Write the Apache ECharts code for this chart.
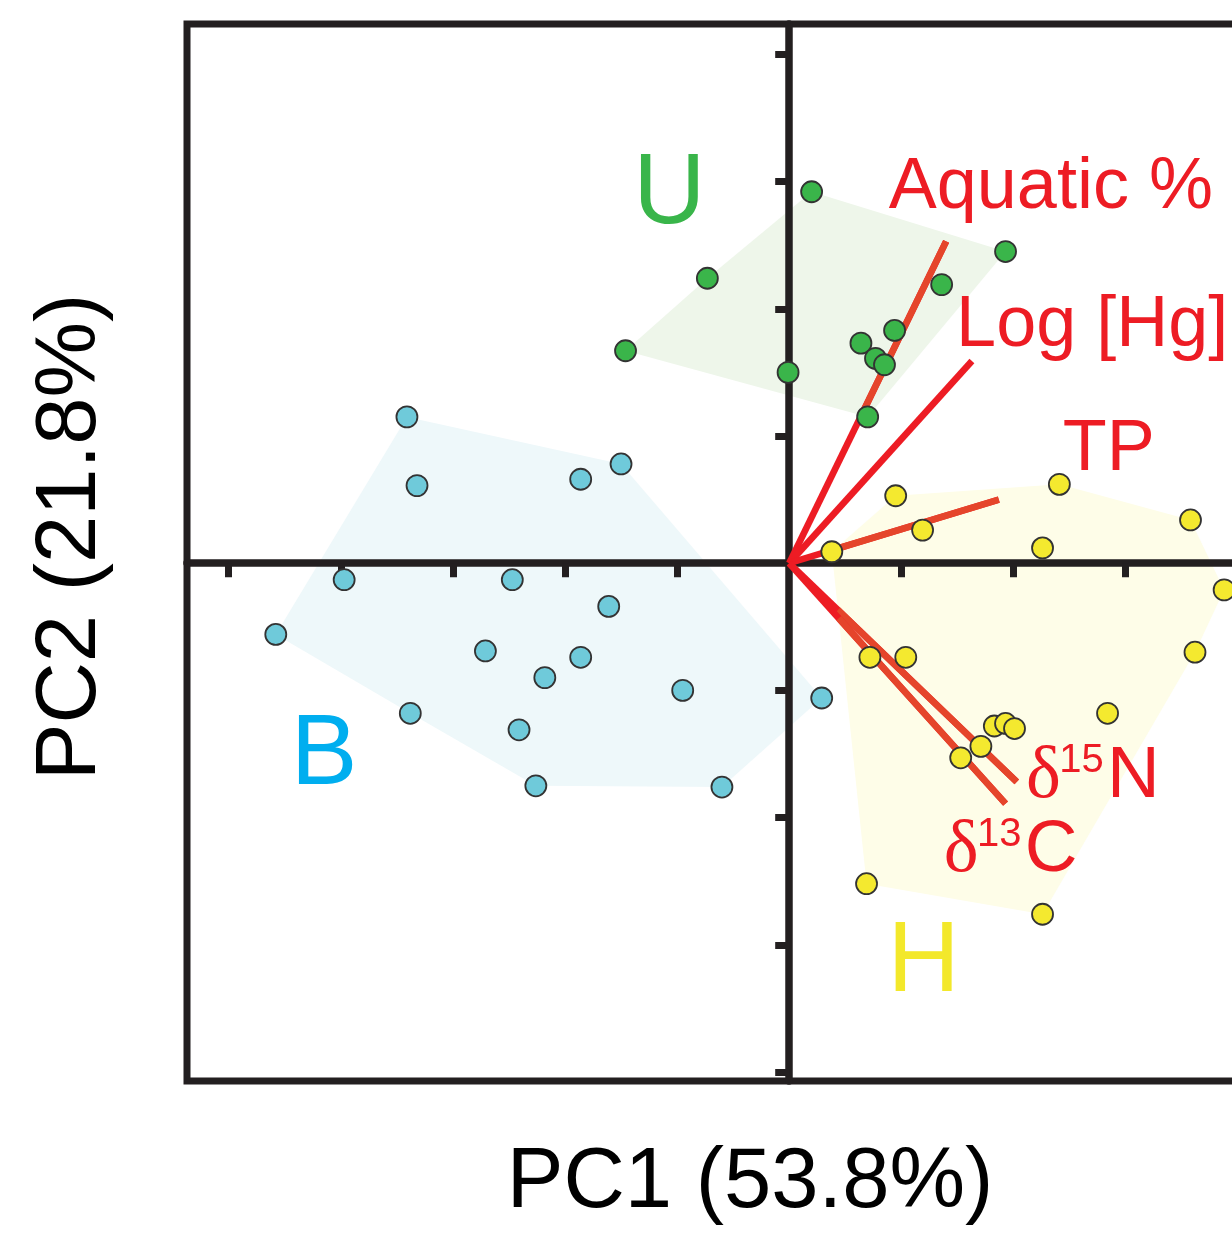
<!DOCTYPE html>
<html>
<head>
<meta charset="utf-8">
<script src="https://cdn.jsdelivr.net/npm/echarts@6/dist/echarts.min.js"></script>
<style>
  html, body { margin: 0; padding: 0; background: #ffffff; }
  #chart { width: 1232px; height: 1237px; }
</style>
</head>
<body>
<div id="chart"></div>
<script>
// PCA site scores (PC1, PC2) for the three lake groups
const groupNames = ['U', 'B', 'H'];
const scoresU = [[0.20, 2.92], [1.93, 2.45], [-0.73, 2.24], [1.36, 2.19], [-1.46, 1.67], [0.94, 1.83],
                 [0.64, 1.73], [0.77, 1.61], [0.85, 1.56], [-0.01, 1.50], [0.70, 1.15]];
const scoresB = [[-3.41, 1.15], [-3.32, 0.61], [-1.86, 0.66], [-1.50, 0.78], [-3.97, -0.13], [-2.47, -0.13],
                 [-1.61, -0.34], [-4.58, -0.56], [-2.71, -0.69], [-1.86, -0.74], [-2.18, -0.90], [-0.95, -1.00],
                 [-3.38, -1.18], [-2.41, -1.31], [-2.26, -1.75], [-0.60, -1.76], [0.29, -1.06]];
const scoresH = [[0.95, 0.53], [2.41, 0.62], [3.58, 0.34], [1.19, 0.26], [2.26, 0.12], [0.38, 0.09],
                 [3.88, -0.21], [0.72, -0.74], [1.04, -0.74], [3.62, -0.70], [2.84, -1.18], [1.83, -1.28],
                 [1.93, -1.26], [2.01, -1.30], [1.71, -1.44], [1.53, -1.53], [0.69, -2.52], [2.26, -2.76]];

// variable loadings drawn as vectors from the origin
const loadingNames = ['Aquatic %', 'Log [Hg]', 'TP', 'δ15N', 'δ13C'];
const loadingValues = [[1.40, 2.53], [1.63, 1.59], [1.87, 0.50], [2.03, -1.72], [1.93, -1.89]];

const axisTitles = ['PC1 (53.8%)', 'PC2 (21.8%)'];
const xTicks = [-5, -4, -3, -2, -1, 1, 2, 3, 4];
const yTicks = [-4, -3, -2, -1, 1, 2, 3, 4];

// ---- layout and styling ----
const groupScores = [scoresU, scoresB, scoresH];
const groupPointColor = ['#3ab54a', '#6fcada', '#f4e92f'];
const groupHullColor = ['#eef6ea', '#eef8fa', '#fefde8'];
const groupTextColor = ['#39b54a', '#00aeef', '#f3e82b'];
const groupLabelAt = { U: [-1.07, 2.94], B: [-4.15, -1.47], H: [1.20, -3.10] };
const loadingLabelAt = {
  'Aquatic %': [0.888, 2.986], 'Log [Hg]': [1.489, 1.901], 'TP': [2.44, 0.92],
  'δ15N': [2.13, -1.647], 'δ13C': [1.396, -2.229]
};
const RED = '#ed1c24';
const ORANGE = '#e5452b';
const INK = '#231f20';
const SANS = '"Liberation Sans", Arial, Helvetica, sans-serif';
const SERIF = '"Liberation Serif", "Times New Roman", serif';
// canvas "middle" sits a little above the cap-height centre; nudge glyphs down
const MID_SHIFT = 0.06;

// convex hull (monotone chain)
function convexHull(points) {
  const p = points.slice().sort((a, b) => a[0] - b[0] || a[1] - b[1]);
  const cross = (o, a, b) => (a[0] - o[0]) * (b[1] - o[1]) - (a[1] - o[1]) * (b[0] - o[0]);
  const lower = [], upper = [];
  for (const q of p) {
    while (lower.length >= 2 && cross(lower[lower.length - 2], lower[lower.length - 1], q) <= 0) lower.pop();
    lower.push(q);
  }
  for (let i = p.length - 1; i >= 0; i--) {
    const q = p[i];
    while (upper.length >= 2 && cross(upper[upper.length - 2], upper[upper.length - 1], q) <= 0) upper.pop();
    upper.push(q);
  }
  upper.pop(); lower.pop();
  return lower.concat(upper);
}
const hulls = groupScores.map(convexHull);

function pointInPolygon(pt, poly) {
  let inside = false;
  for (let i = 0, j = poly.length - 1; i < poly.length; j = i++) {
    const [xi, yi] = poly[i], [xj, yj] = poly[j];
    if ((yi > pt[1]) !== (yj > pt[1]) && pt[0] < (xj - xi) * (pt[1] - yi) / (yj - yi) + xi) inside = !inside;
  }
  return inside;
}
function edgeCrossings(a, b, poly) {
  const ts = [];
  const r = [b[0] - a[0], b[1] - a[1]];
  for (let i = 0; i < poly.length; i++) {
    const c = poly[i], d = poly[(i + 1) % poly.length];
    const s = [d[0] - c[0], d[1] - c[1]];
    const den = r[0] * s[1] - r[1] * s[0];
    if (Math.abs(den) < 1e-12) continue;
    const q = [c[0] - a[0], c[1] - a[1]];
    const t = (q[0] * s[1] - q[1] * s[0]) / den;
    const u = (q[0] * r[1] - q[1] * r[0]) / den;
    if (t > 0 && t < 1 && u >= 0 && u <= 1) ts.push(t);
  }
  return ts;
}
// parts of a loading vector lying over a group hull (tinted orange there)
function spansOverHulls(a, b) {
  let ts = [0, 1];
  hulls.forEach(h => { ts = ts.concat(edgeCrossings(a, b, h)); });
  ts.sort((x, y) => x - y);
  const spans = [];
  for (let i = 0; i < ts.length - 1; i++) {
    const m = (ts[i] + ts[i + 1]) / 2;
    const pt = [a[0] + (b[0] - a[0]) * m, a[1] + (b[1] - a[1]) * m];
    if (hulls.some(h => pointInPolygon(pt, h))) spans.push([ts[i], ts[i + 1]]);
  }
  return spans;
}

const chart = echarts.init(document.getElementById('chart'), null, { renderer: 'canvas' });

const hullSeries = {
  type: 'custom', name: 'hulls', z: -1, silent: true, clip: true,
  data: hulls.map(h => h[0]),
  renderItem: (params, api) => ({
    type: 'polygon',
    shape: { points: hulls[params.dataIndex].map(p => api.coord(p)) },
    style: { fill: groupHullColor[params.dataIndex], stroke: null }
  })
};

const vectorSeries = {
  type: 'custom', name: 'loadings', z: 3, silent: true, clip: false,
  data: loadingValues,
  renderItem: (params, api) => {
    const end = loadingValues[params.dataIndex];
    const p0 = api.coord([0, 0]);
    const p1 = api.coord(end);
    const children = [{
      type: 'line', shape: { x1: p0[0], y1: p0[1], x2: p1[0], y2: p1[1] },
      style: { stroke: RED, lineWidth: 6.6, lineCap: 'butt' }
    }];
    spansOverHulls([0, 0], end).forEach(([t0, t1]) => {
      children.push({
        type: 'line',
        shape: {
          x1: p0[0] + (p1[0] - p0[0]) * t0, y1: p0[1] + (p1[1] - p0[1]) * t0,
          x2: p0[0] + (p1[0] - p0[0]) * t1, y2: p0[1] + (p1[1] - p0[1]) * t1
        },
        style: { stroke: ORANGE, lineWidth: 6.6, lineCap: 'butt' }
      });
    });
    return { type: 'group', children };
  }
};

const pointSeries = groupNames.map((g, i) => ({
  type: 'scatter', name: g, z: 4, silent: true,
  symbol: 'circle', symbolSize: 21,
  itemStyle: { color: groupPointColor[i], borderColor: '#333333', borderWidth: 1.8, opacity: 1 },
  data: groupScores[i]
}));

function textEl(x, y, text, size, family, fill, align) {
  return {
    type: 'text', x, y: y + size * MID_SHIFT,
    style: { text, font: size + 'px ' + family, fill, align, textAlign: align,
             verticalAlign: 'middle', textVerticalAlign: 'middle' }
  };
}

const groupLabelSeries = {
  type: 'custom', name: 'groupLabels', z: 5, silent: true, clip: false,
  data: groupNames.map(g => groupLabelAt[g]),
  renderItem: (params, api) => {
    const p = api.coord(groupLabelAt[groupNames[params.dataIndex]]);
    return textEl(p[0], p[1], groupNames[params.dataIndex], 100, SANS, groupTextColor[params.dataIndex], 'center');
  }
};

const loadingLabelSeries = {
  type: 'custom', name: 'loadingLabels', z: 5, silent: true, clip: false,
  data: loadingNames.map(n => loadingLabelAt[n]),
  renderItem: (params, api) => {
    const name = loadingNames[params.dataIndex];
    const p = api.coord(loadingLabelAt[name]);
    const iso = name.match(/^(δ)(\d+)(\w+)$/);
    if (!iso) return textEl(p[0], p[1], name, 72, SANS, RED, 'left');
    return {
      type: 'group',
      children: [
        textEl(p[0] - 2, p[1], iso[1], 74, SERIF, RED, 'left'),
        textEl(p[0] + 31.3, p[1] - 14.5, iso[2], 40, SANS, RED, 'left'),
        textEl(p[0] + 79, p[1], iso[3], 73, SANS, RED, 'left')
      ]
    };
  }
};

const axisCommon = {
  type: 'value',
  axisLine: { show: true, onZero: true, lineStyle: { color: INK, width: 7.5 } },
  axisLabel: { show: false },
  splitLine: { show: false }
};

const TITLE_SIZE = 85;
chart.setOption({
  animation: false,
  backgroundColor: '#ffffff',
  grid: {
    left: 187, top: 24, width: 1084, height: 1057,
    outerBoundsMode: 'none', containLabel: false,
    show: true, borderColor: INK, borderWidth: 7, backgroundColor: 'transparent'
  },
  xAxis: Object.assign({}, axisCommon, {
    min: -5.372, max: 4.298,
    axisTick: { show: true, customValues: xTicks, length: 14, lineStyle: { color: INK, width: 7 } }
  }),
  yAxis: Object.assign({}, axisCommon, {
    min: -4.071, max: 4.239,
    axisTick: { show: true, customValues: yTicks, length: 14, lineStyle: { color: INK, width: 7 } }
  }),
  graphic: [
    {
      type: 'text', x: 750, y: 1178 + TITLE_SIZE * MID_SHIFT,
      style: { text: axisTitles[0], font: TITLE_SIZE + 'px ' + SANS, fill: '#000000',
               align: 'center', textAlign: 'center', verticalAlign: 'middle', textVerticalAlign: 'middle' }
    },
    {
      type: 'text', x: 66.5 + TITLE_SIZE * MID_SHIFT, y: 537, rotation: Math.PI / 2,
      style: { text: axisTitles[1], font: TITLE_SIZE + 'px ' + SANS, fill: '#000000',
               align: 'center', textAlign: 'center', verticalAlign: 'middle', textVerticalAlign: 'middle' }
    }
  ],
  series: [hullSeries, vectorSeries].concat(pointSeries, [groupLabelSeries, loadingLabelSeries])
});
</script>
</body>
</html>
